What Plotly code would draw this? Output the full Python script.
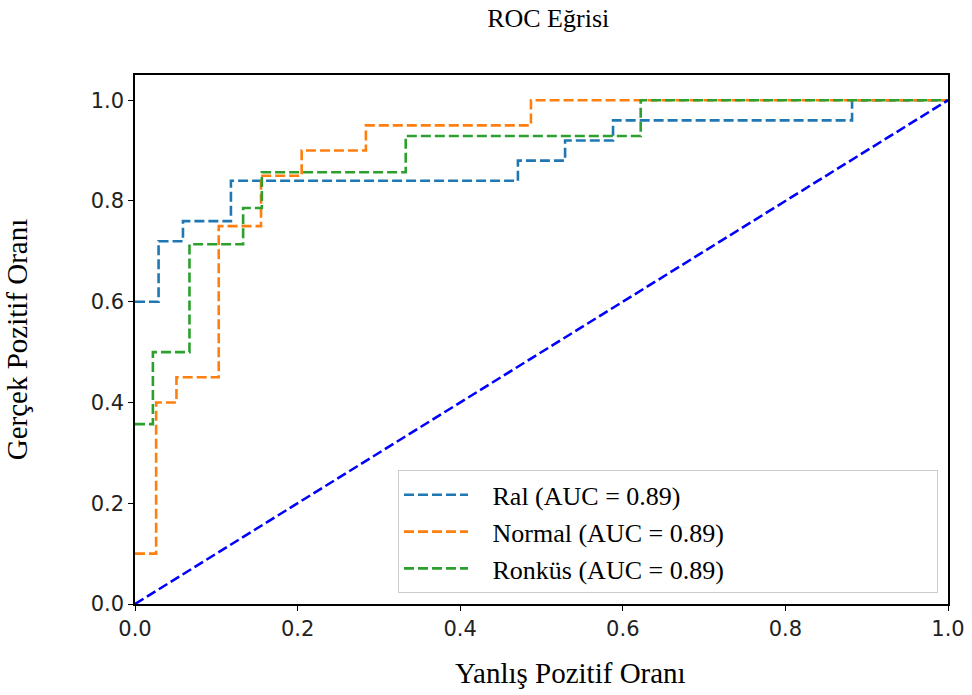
import plotly.graph_objects as go

# ROC curve points (false positive rate, true positive rate) per class
ral_fpr = [0.0, 0.029, 0.059, 0.118, 0.471, 0.529, 0.588, 0.882, 1.0]
ral_tpr = [0.60, 0.72, 0.76, 0.84, 0.88, 0.92, 0.96, 1.0, 1.0]

normal_fpr = [0.0, 0.026, 0.051, 0.103, 0.155, 0.205, 0.284, 0.487, 1.0]
normal_tpr = [0.10, 0.40, 0.45, 0.75, 0.85, 0.90, 0.95, 1.0, 1.0]

ronkus_fpr = [0.0, 0.022, 0.067, 0.133, 0.156, 0.333, 0.622, 1.0]
ronkus_tpr = [0.357, 0.50, 0.714, 0.786, 0.857, 0.929, 1.0, 1.0]

auc_values = {"Ral": 0.89, "Normal": 0.89, "Ronküs": 0.89}
tick_vals = [0.0, 0.2, 0.4, 0.6, 0.8, 1.0]

serif = "Liberation Serif, Times New Roman, serif"
dash = "10px,4px"
pad = "\u00a0" * 3  # gap between legend sample and label

fig = go.Figure()

curves = [
    ("Ral", ral_fpr, ral_tpr, "#1f77b4"),
    ("Normal", normal_fpr, normal_tpr, "#ff7f0e"),
    ("Ronküs", ronkus_fpr, ronkus_tpr, "#2ca02c"),
]
for name, fpr, tpr, color in curves:
    fig.add_trace(go.Scatter(
        x=fpr, y=tpr, mode="lines", line_shape="hv",
        line=dict(color=color, width=2.6, dash=dash),
        name=f"{pad}{name} (AUC = {auc_values[name]:.2f})",
    ))

# chance diagonal
fig.add_trace(go.Scatter(
    x=[0, 1], y=[0, 1], mode="lines",
    line=dict(color="#0000ff", width=2.6, dash=dash),
    showlegend=False,
))

axis_common = dict(
    showline=True, linecolor="black", linewidth=1.5, mirror=True,
    ticks="outside", ticklen=5, tickwidth=1.2, tickcolor="black",
    showgrid=False, zeroline=False, automargin=False,
    tickvals=tick_vals, tickformat=".1f",
    tickfont=dict(family="DejaVu Sans, sans-serif", size=21, color="#222"),
)

fig.update_layout(
    width=972, height=695,
    margin=dict(l=135, r=24, t=75, b=91),
    paper_bgcolor="white", plot_bgcolor="white",
    title=dict(text="ROC Eğrisi", x=0.564, xanchor="center",
               y=0.974, yanchor="middle", yref="container",
               font=dict(family=serif, size=26, color="black")),
    xaxis=dict(range=[0, 1], **axis_common),
    yaxis=dict(range=[0, 1.05], **axis_common,
               title=dict(text="Gerçek Pozitif Oranı", standoff=54,
                          font=dict(family=serif, size=29, color="black"))),
    legend=dict(x=0.3235, y=0.02, xanchor="left", yanchor="bottom",
                orientation="h", entrywidthmode="fraction", entrywidth=0.655,
                bgcolor="white", bordercolor="#cccccc", borderwidth=1,
                font=dict(family=serif, size=26, color="black"),
                itemwidth=64, tracegroupgap=0),
)

# x axis title, set slightly right of the plot centre
fig.add_annotation(
    text="Yanlış Pozitif Oranı", xref="paper", yref="paper",
    x=0.536, y=-0.130, xanchor="center", yanchor="middle",
    showarrow=False, font=dict(family=serif, size=29, color="black"),
)

fig.write_html("out.html")
